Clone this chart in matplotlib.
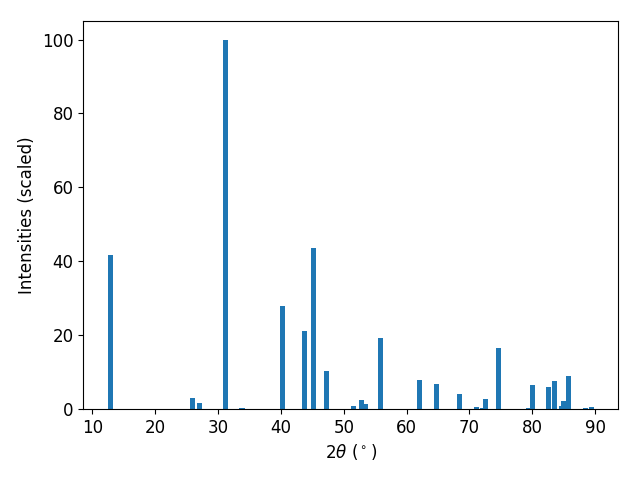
import matplotlib
matplotlib.use("Agg")
import matplotlib.pyplot as plt

# peak positions (2theta, degrees) and scaled intensities
two_theta = [12.8, 26.0, 27.1, 31.1, 33.8, 40.2, 43.8, 45.2, 47.2, 51.6,
             52.8, 53.5, 55.9, 62.0, 64.7, 68.4, 71.1, 72.0, 72.5, 74.6,
             79.4, 80.1, 82.5, 83.6, 84.6, 85.0, 85.8, 88.4, 89.4]
intensity = [41.7, 3.0, 1.6, 100.0, 0.3, 27.8, 21.0, 43.5, 10.4, 0.9,
             2.3, 1.3, 19.1, 7.9, 6.8, 4.1, 0.5, 0.3, 2.7, 16.5,
             0.3, 6.5, 6.0, 7.6, 0.8, 2.2, 8.9, 0.3, 0.6]

plt.rcParams['font.size'] = 12

fig, ax = plt.subplots(figsize=(6.4, 4.8), dpi=100)
ax.bar(two_theta, intensity, width=0.8)
ax.set_xlabel(r"$2\theta$ ($^\circ$)")
ax.set_ylabel("Intensities (scaled)")
fig.subplots_adjust(left=0.13, right=0.966, top=0.956, bottom=0.148)
fig.savefig("out.png")
